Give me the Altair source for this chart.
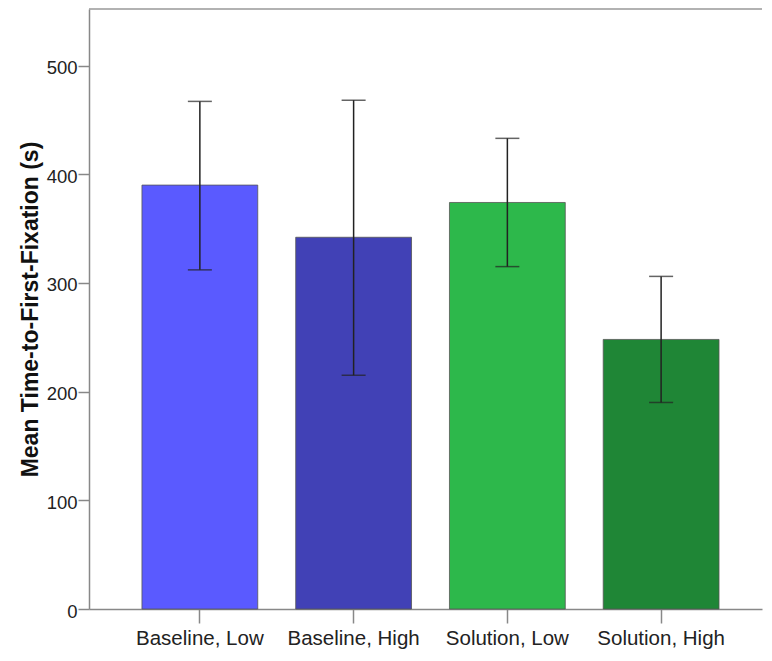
import altair as alt
import pandas as pd

categories = ["Baseline, Low", "Baseline, High", "Solution, Low", "Solution, High"]
means = [390, 342, 374, 248]
ci_low = [312, 215, 315, 190]
ci_high = [467, 468, 433, 306]
colors = ["#5a5aff", "#4141b6", "#2db84b", "#1f8636"]
y_ticks = [0, 100, 200, 300, 400, 500]

df = pd.DataFrame({"cat": categories, "mean": means, "lo": ci_low, "hi": ci_high})

W, H = 673, 600
FONT = "Liberation Sans"
Y_TITLE = "Mean Time-to-First-Fixation (s)"

x_enc = alt.X(
    "cat:N",
    sort=categories,
    title=None,
    scale=alt.Scale(paddingInner=0.2468, paddingOuter=0.312, align=0.552),
    axis=alt.Axis(
        labelAngle=0, labelFontSize=20.5, labelFont=FONT, labelColor="#222",
        tickSize=14, tickColor="#888", tickWidth=1.5,
        domainColor="#888", domainWidth=1.5, labelPadding=5,
    ),
)
y_scale = alt.Scale(domain=[0, 552], nice=False, zero=True)
y_axis = alt.Axis(
    values=y_ticks, grid=False, labelFontSize=18.5, labelFont=FONT, labelColor="#222",
    tickSize=11, tickColor="#888", tickWidth=1.5, domainColor="#888", domainWidth=1.5,
    labelPadding=1, labelOffset=2, titleFontSize=23, titleFont=FONT, titleFontWeight="bold",
    titleColor="#111", titlePadding=4,
)

bars = alt.Chart(df).mark_bar(stroke="#555", strokeWidth=0.8).encode(
    x=x_enc,
    y=alt.Y("mean:Q", scale=y_scale, title=Y_TITLE, axis=y_axis),
    color=alt.Color("cat:N", scale=alt.Scale(domain=categories, range=colors), legend=None),
)

rules = alt.Chart(df).mark_rule(color="#222", strokeWidth=1.5).encode(
    x=x_enc,
    y=alt.Y("lo:Q", scale=y_scale, axis=y_axis, title=Y_TITLE),
    y2="hi:Q",
)

cap_lo = alt.Chart(df).mark_tick(color="#222", thickness=1.5, size=24).encode(
    x=x_enc, y=alt.Y("lo:Q", scale=y_scale, axis=y_axis, title=Y_TITLE),
)
cap_hi = alt.Chart(df).mark_tick(color="#222", thickness=1.5, size=24).encode(
    x=x_enc, y=alt.Y("hi:Q", scale=y_scale, axis=y_axis, title=Y_TITLE),
)

top = alt.Chart(pd.DataFrame({"v": [0]})).mark_rule(color="#999", strokeWidth=1.5).encode(
    y=alt.value(0), x=alt.value(0), x2=alt.value(W)
)

chart = (
    alt.layer(bars, rules, cap_lo, cap_hi, top)
    .properties(width=W, height=H, padding={"left": 11, "top": 0, "right": 0, "bottom": 5})
    .configure_view(stroke=None)
)

chart.save("out.html", embed_options={"renderer": "svg", "actions": False})
